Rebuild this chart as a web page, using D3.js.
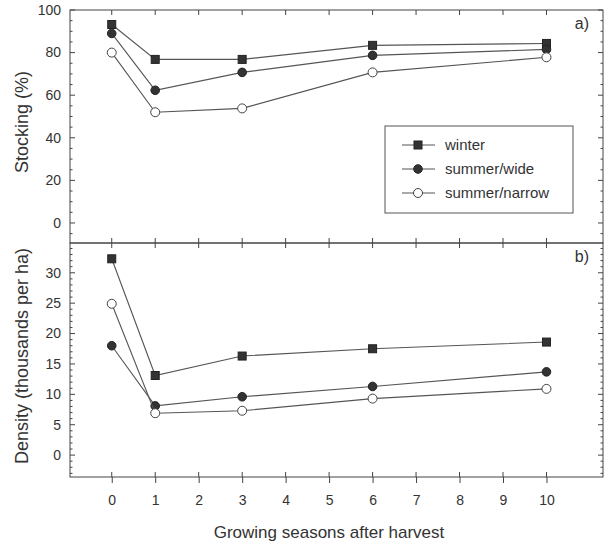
<!DOCTYPE html>
<html>
<head>
<meta charset="utf-8">
<script src="https://cdn.jsdelivr.net/npm/d3@7"></script>
<style>
  body { margin: 0; background: #fff; }
  text { font-family: "Liberation Sans", Arial, sans-serif; fill: #333; }
</style>
</head>
<body>
<div id="chart"></div>
<script>
// data
var seasons = [0, 1, 3, 6, 10];
var seriesNames = ["winter", "summer/wide", "summer/narrow"];
var stockWinter = [93.2, 76.8, 76.8, 83.4, 84.3];
var stockWide = [89, 62.3, 70.7, 78.7, 81.5];
var stockNarrow = [80, 52, 53.8, 70.7, 77.8];
var densWinter = [32.3, 13.1, 16.3, 17.5, 18.6];
var densWide = [18.0, 8.1, 9.6, 11.3, 13.7];
var densNarrow = [24.9, 6.9, 7.3, 9.3, 10.9];
var xTicks = [0, 1, 2, 3, 4, 5, 6, 7, 8, 9, 10];
var stockTicks = [0, 20, 40, 60, 80, 100];
var densTicks = [0, 5, 10, 15, 20, 25, 30];

var W = 607, H = 546;
var left = 70, right = 603;
var topA = 10, botA = 243, topB = 243, botB = 477;
var lineCol = "#555";

var svg = d3.select("#chart").append("svg")
    .attr("width", W).attr("height", H);

var x = d3.scaleLinear().domain([-0.96, 11.3]).range([left, right]);
var yA = d3.scaleLinear().domain([-9.4, 100]).range([botA, topA]);
var yB = d3.scaleLinear().domain([-3.6, 34.9]).range([botB, topB]);

var marks = ["square", "dot", "open"];

function panel(y, yt, minorStep, series, label, title, titleY) {
    var y0 = y.range()[0], y1 = y.range()[1];
    // frame
    svg.append("rect")
        .attr("x", left).attr("y", y1)
        .attr("width", right - left).attr("height", y0 - y1)
        .attr("fill", "none").attr("stroke", "#444").attr("stroke-width", 1);

    // x ticks inward at top and bottom
    var g = svg.append("g").attr("stroke", "#444");
    xTicks.forEach(function(t) {
        g.append("line").attr("x1", x(t)).attr("x2", x(t)).attr("y1", y1).attr("y2", y1 + 5);
        g.append("line").attr("x1", x(t)).attr("x2", x(t)).attr("y1", y0).attr("y2", y0 - 5);
    });
    // y ticks, major and minor
    var lo = Math.ceil(y.domain()[0] / minorStep) * minorStep;
    for (var v = lo; v <= y.domain()[1] + 0.001; v += minorStep) {
        var major = yt.indexOf(Math.round(v * 100) / 100) >= 0;
        var len = major ? 5 : 2.5;
        g.append("line").attr("x1", left).attr("x2", left + len).attr("y1", y(v)).attr("y2", y(v));
        g.append("line").attr("x1", right).attr("x2", right - len).attr("y1", y(v)).attr("y2", y(v));
    }
    yt.forEach(function(t) {
        svg.append("text")
            .attr("x", 61).attr("y", y(t)).attr("dy", "0.35em")
            .attr("text-anchor", "end").style("font-size", "14px")
            .text(t);
    });

    var line = d3.line().x(function(d) { return x(d[0]); }).y(function(d) { return y(d[1]); });
    series.forEach(function(vals, i) {
        var pts = seasons.map(function(s, j) { return [s, vals[j]]; });
        svg.append("path").datum(pts)
            .attr("d", line).attr("fill", "none")
            .attr("stroke", lineCol).attr("stroke-width", 1.1);
        pts.forEach(function(p) { drawMark(marks[i], x(p[0]), y(p[1])); });
    });

    svg.append("text")
        .attr("x", 589).attr("y", y1 + 19)
        .attr("text-anchor", "end").style("font-size", "16px")
        .text(label);

    svg.append("text")
        .attr("transform", "translate(28," + titleY + ") rotate(-90)")
        .attr("text-anchor", "middle").style("font-size", "18px")
        .text(title);
}

function drawMark(type, cx, cy) {
    if (type == "square") {
        svg.append("rect").attr("x", cx - 4).attr("y", cy - 4)
            .attr("width", 8).attr("height", 8)
            .attr("fill", "#333").attr("stroke", "#222");
    } else if (type == "dot") {
        svg.append("circle").attr("cx", cx).attr("cy", cy).attr("r", 4.3)
            .attr("fill", "#333").attr("stroke", "#222");
    } else {
        svg.append("circle").attr("cx", cx).attr("cy", cy).attr("r", 4.5)
            .attr("fill", "#fff").attr("stroke", "#444");
    }
}

panel(yA, stockTicks, 5, [stockWinter, stockWide, stockNarrow], "a)", "Stocking (%)", 122);
panel(yB, densTicks, 1, [densWinter, densWide, densNarrow], "b)", "Density (thousands per ha)", 356);

// x axis below bottom panel
var xa = svg.append("g").attr("transform", "translate(0," + botB + ")")
    .call(d3.axisBottom(x).tickValues(xTicks).tickSize(6).tickPadding(12));
xa.select(".domain").remove();
xa.selectAll("line").attr("stroke", "#444");
xa.selectAll("text").style("font-size", "14px").style("font-family", "Liberation Sans, Arial, sans-serif").attr("fill", "#333");

svg.append("text")
    .attr("x", 329).attr("y", 538)
    .attr("text-anchor", "middle").style("font-size", "17px")
    .text("Growing seasons after harvest");

// legend
var leg = svg.append("g");
leg.append("rect").attr("x", 385).attr("y", 126).attr("width", 188).attr("height", 87)
    .attr("fill", "#fff").attr("stroke", "#555");
seriesNames.forEach(function(n, i) {
    var ly = 145 + i * 24;
    leg.append("line").attr("x1", 402).attr("x2", 435).attr("y1", ly).attr("y2", ly)
        .attr("stroke", lineCol).attr("stroke-width", 1.1);
    drawMark(marks[i], 418, ly);
    leg.append("text").attr("x", 445).attr("y", ly).attr("dy", "0.35em")
        .style("font-size", "15px").text(n);
});
</script>
</body>
</html>
